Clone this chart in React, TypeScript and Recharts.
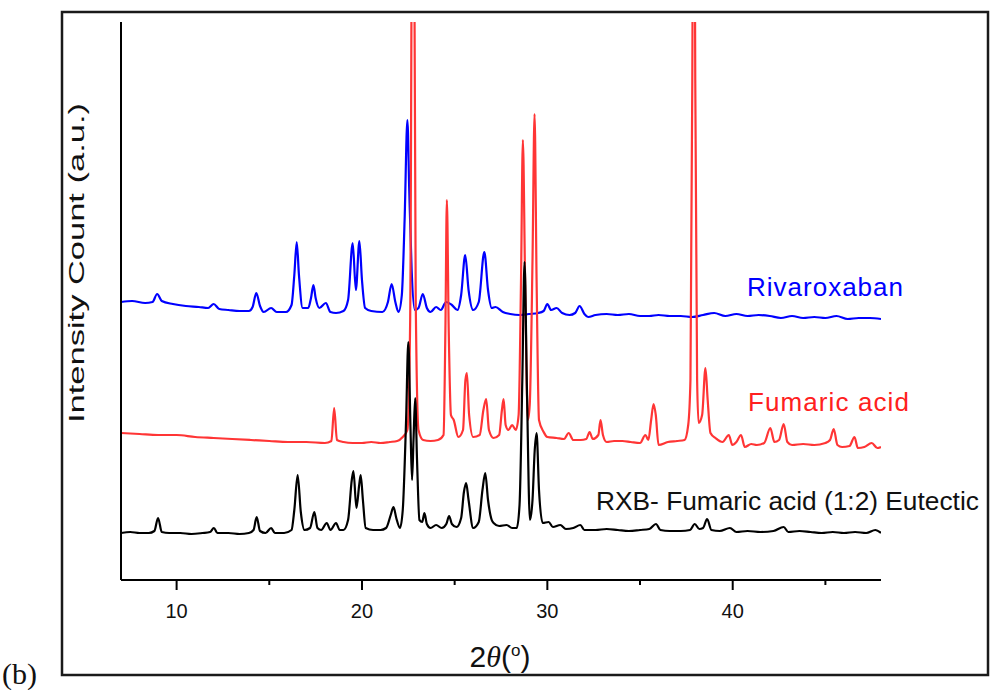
import { LineChart, Line, XAxis, YAxis, ReferenceLine } from 'recharts'

// 2θ (deg) vs stacked intensity (a.u.)
const rivaroxaban: [number, number][] = [
  [7.0, 278], [7.6, 279], [8.3, 277], [8.7, 278], [8.95, 286], [9.2, 279], [9.8, 276], [10.5, 274],
  [11.2, 273], [11.7, 272], [12.0, 276], [12.3, 271], [12.8, 270], [13.4, 269], [13.9, 269], [14.1, 273],
  [14.3, 287], [14.5, 274], [14.7, 268], [15.1, 272], [15.4, 268], [15.9, 268], [16.2, 275], [16.35, 305],
  [16.48, 338], [16.6, 305], [16.8, 272], [17.1, 272], [17.25, 282], [17.38, 295], [17.5, 282], [17.7, 272],
  [18.05, 277], [18.3, 268], [18.6, 267], [19.0, 269], [19.25, 280], [19.5, 337], [19.67, 290], [19.86, 339],
  [20.0, 300], [20.17, 272], [20.5, 269], [21.1, 268], [21.4, 278], [21.6, 296], [21.8, 278], [21.97, 268],
  [22.15, 285], [22.3, 360], [22.45, 460], [22.55, 390], [22.68, 310], [22.85, 270], [23.05, 272], [23.28, 286],
  [23.5, 272], [23.7, 268], [24.0, 273], [24.25, 270], [24.54, 278], [24.85, 275], [25.15, 270], [25.35, 285],
  [25.57, 325], [25.75, 290], [26.0, 270], [26.3, 278], [26.6, 328], [26.8, 290], [27.0, 272], [27.2, 273],
  [27.6, 268], [28.0, 266], [28.5, 265], [29.0, 266], [29.5, 267], [29.8, 269], [30.0, 276], [30.2, 270],
  [30.5, 272], [30.8, 267], [31.2, 265], [31.5, 267], [31.74, 274], [32.0, 266], [32.2, 263], [32.6, 265],
  [33.2, 266], [33.8, 265], [34.4, 266], [35.0, 264], [35.5, 264], [36.0, 265], [36.6, 264], [37.2, 264],
  [37.8, 263], [38.4, 265], [39.0, 267], [39.6, 264], [40.2, 266], [40.8, 264], [41.4, 265], [42.0, 264],
  [42.6, 262], [43.2, 264], [43.8, 262], [44.4, 263], [45.0, 262], [45.6, 264], [46.2, 261], [46.8, 262],
  [47.4, 262], [48.0, 261],
]

const fumaricAcid: [number, number][] = [
  [7.0, 147], [8.0, 146], [9.0, 145], [10.0, 145], [11.0, 143], [12.0, 142], [13.0, 141], [14.0, 140],
  [15.0, 139], [16.0, 138], [17.0, 138], [18.0, 137], [18.35, 139], [18.5, 172], [18.65, 140], [19.0, 138],
  [19.5, 137], [20.0, 137], [20.5, 138], [21.0, 137], [21.5, 138], [21.9, 139], [22.2, 143], [22.45, 150],
  [22.6, 260], [22.75, 900], [22.9, 280], [23.05, 150], [23.3, 140], [23.7, 139], [24.1, 140], [24.4, 145],
  [24.5, 250], [24.58, 380], [24.68, 250], [24.8, 165], [24.95, 160], [25.2, 143], [25.45, 150], [25.58, 200],
  [25.66, 207], [25.78, 165], [26.0, 143], [26.35, 145], [26.55, 170], [26.7, 181], [26.85, 150], [27.1, 142],
  [27.4, 145], [27.55, 170], [27.64, 181], [27.75, 155], [27.9, 150], [28.1, 155], [28.3, 150], [28.45, 165],
  [28.58, 300], [28.68, 440], [28.8, 300], [28.95, 160], [29.05, 175], [29.2, 320], [29.31, 466], [29.42, 300],
  [29.55, 160], [29.8, 148], [30.0, 143], [30.5, 142], [30.9, 141], [31.15, 147], [31.4, 140], [31.8, 140],
  [32.1, 141], [32.28, 148], [32.45, 141], [32.75, 145], [32.87, 160], [33.0, 145], [33.2, 138], [33.6, 139],
  [34.05, 139], [34.5, 138], [35.0, 137], [35.29, 145], [35.45, 140], [35.6, 160], [35.73, 176], [35.85, 165],
  [36.0, 135], [36.5, 138], [37.0, 139], [37.4, 140], [37.6, 155], [37.72, 200], [37.82, 500], [37.9, 900],
  [37.98, 500], [38.08, 200], [38.16, 157], [38.35, 165], [38.53, 212], [38.65, 180], [38.8, 147], [39.07, 142],
  [39.45, 138], [39.79, 145], [39.98, 135], [40.2, 138], [40.45, 145], [40.65, 133], [41.0, 136], [41.3, 135],
  [41.7, 137], [42.03, 152], [42.25, 138], [42.5, 140], [42.75, 156], [42.95, 138], [43.2, 135], [43.8, 136],
  [44.4, 135], [45.0, 137], [45.25, 140], [45.45, 151], [45.65, 135], [45.9, 133], [46.3, 134], [46.57, 143],
  [46.75, 132], [47.1, 133], [47.5, 137], [47.8, 132], [48.0, 133],
]

const eutectic: [number, number][] = [
  [7.0, 47], [7.5, 48], [8.0, 47], [8.5, 47], [8.8, 49], [9.0, 62], [9.2, 48], [9.6, 47],
  [10.2, 47], [10.8, 46], [11.4, 47], [11.8, 48], [12.01, 52], [12.2, 47], [12.8, 47], [13.4, 46],
  [13.9, 47], [14.15, 50], [14.32, 63], [14.5, 49], [14.8, 47], [15.1, 52], [15.3, 47], [15.8, 47],
  [16.2, 50], [16.35, 70], [16.53, 105], [16.7, 68], [16.9, 50], [17.2, 52], [17.43, 68], [17.6, 52],
  [17.8, 50], [18.1, 57], [18.3, 50], [18.6, 57], [18.8, 50], [19.0, 50], [19.25, 60], [19.45, 100],
  [19.54, 109], [19.7, 72], [19.85, 95], [19.93, 105], [20.05, 80], [20.2, 52], [20.6, 50], [21.0, 50],
  [21.3, 52], [21.55, 65], [21.7, 73], [21.85, 62], [22.05, 52], [22.2, 70], [22.38, 160], [22.5, 238],
  [22.62, 150], [22.7, 100], [22.78, 140], [22.87, 182], [22.97, 120], [23.1, 60], [23.25, 58], [23.37, 67],
  [23.5, 56], [23.7, 52], [24.0, 55], [24.3, 52], [24.55, 56], [24.7, 64], [24.85, 56], [25.1, 53],
  [25.35, 62], [25.5, 88], [25.62, 97], [25.75, 80], [26.0, 52], [26.3, 58], [26.5, 90], [26.65, 107],
  [26.8, 80], [27.0, 60], [27.1, 57], [27.4, 54], [27.8, 55], [28.1, 52], [28.35, 52], [28.5, 75],
  [28.65, 200], [28.77, 318], [28.9, 190], [29.06, 60], [29.2, 80], [29.32, 130], [29.42, 147], [29.55, 90],
  [29.75, 57], [30.07, 58], [30.3, 53], [30.7, 55], [31.0, 51], [31.4, 52], [31.78, 55], [32.0, 50],
  [32.6, 50], [33.2, 51], [33.8, 50], [34.4, 49], [35.0, 50], [35.5, 51], [35.86, 56], [36.1, 50],
  [36.6, 49], [37.2, 49], [37.7, 50], [37.95, 56], [38.2, 51], [38.4, 52], [38.62, 61], [38.85, 50],
  [39.3, 49], [39.85, 52], [40.2, 48], [40.8, 49], [41.5, 48], [42.2, 49], [42.75, 53], [43.0, 48],
  [43.6, 49], [44.2, 48], [44.8, 47], [45.4, 48], [46.0, 47], [46.6, 48], [47.2, 47], [47.7, 50],
  [48.0, 47],
]

const xTicks = [10, 15, 20, 25, 30, 35, 40, 45]
const labeledTicks = [10, 20, 30, 40]

const toPoints = (series: [number, number][]) => series.map(([t, v]) => ({ t, v }))

const sans = 'Arial, "Liberation Sans", Helvetica, sans-serif'

function AxisTick({ x, y, payload }: { x: number; y: number; payload: { value: number } }) {
  if (!labeledTicks.includes(payload.value)) return <g />
  return (
    <text x={x} y={y + 38} textAnchor="middle" fontSize={20} fontFamily={sans} fill="#111">
      {payload.value}
    </text>
  )
}

export default function App() {
  return (
    <div style={{ position: 'absolute', left: 0, top: 0, width: 991, height: 690, background: '#fff' }}>
      <LineChart width={991} height={690} margin={{ top: 22, right: 110, bottom: 0, left: 120 }}>
        <XAxis
          dataKey="t"
          type="number"
          domain={[7, 48]}
          ticks={xTicks}
          interval={0}
          allowDataOverflow
          height={110}
          tickSize={0}
          tickMargin={0}
          tickLine={false}
          tick={AxisTick}
          axisLine={{ stroke: '#000', strokeWidth: 2 }}
        />
        <YAxis
          type="number"
          domain={[0, 558]}
          allowDataOverflow
          width={1}
          tick={false}
          tickLine={false}
          axisLine={{ stroke: '#000', strokeWidth: 2 }}
        />
        {xTicks.map((t) => (
          <ReferenceLine
            key={t}
            segment={[{ x: t, y: 0 }, { x: t, y: labeledTicks.includes(t) ? -10 : -5 }]}
            ifOverflow="visible"
            stroke="#000"
            strokeWidth={2}
          />
        ))}
        <Line data={toPoints(rivaroxaban)} dataKey="v" type="monotone" stroke="#0000ff" strokeWidth={2.2} dot={false} isAnimationActive={false} />
        <Line data={toPoints(fumaricAcid)} dataKey="v" type="monotone" stroke="#ff3535" strokeWidth={2.2} dot={false} isAnimationActive={false} />
        <Line data={toPoints(eutectic)} dataKey="v" type="monotone" stroke="#000" strokeWidth={2.2} dot={false} isAnimationActive={false} />
      </LineChart>
      <svg width={991} height={690} style={{ position: 'absolute', left: 0, top: 0, pointerEvents: 'none' }}>
        <rect x={62} y={12} width={926} height={663} fill="none" stroke="#1a1a1a" strokeWidth={2.5} />
        <text x={2} y={684} fontSize={30} fontFamily='"Liberation Serif", "Times New Roman", serif' fill="#111">(b)</text>
        <text
          x={0}
          y={0}
          transform="translate(84 263) rotate(-90)"
          textAnchor="middle"
          fontSize={22}
          fontFamily={sans}
          fill="#111"
          textLength={320}
          lengthAdjust="spacingAndGlyphs"
        >
          Intensity Count (a.u.)
        </text>
        <text x={500} y={667} textAnchor="middle" fontSize={30} fontFamily={sans} fill="#111">
          2<tspan fontStyle="italic" fontFamily='"Liberation Serif", serif'>θ</tspan>(<tspan dy={-11} fontSize={17}>o</tspan><tspan dy={11}>)</tspan>
        </text>
        <text x={747} y={296} fontSize={26} letterSpacing={1} fontFamily={sans} fill="#0000ff">Rivaroxaban</text>
        <text x={748} y={411} fontSize={26} letterSpacing={1.1} fontFamily={sans} fill="#ff2020">Fumaric acid</text>
        <text x={596} y={510} fontSize={26.3} fontFamily={sans} fill="#111">RXB- Fumaric acid (1:2) Eutectic</text>
      </svg>
    </div>
  )
}
